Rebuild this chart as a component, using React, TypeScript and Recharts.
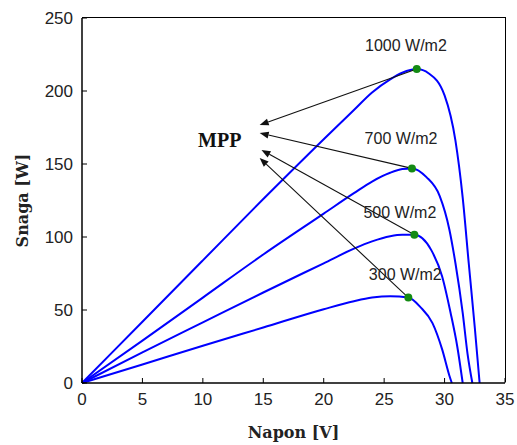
import React from 'react';
import { ComposedChart, Line, Scatter, XAxis, YAxis, ReferenceLine, ReferenceDot } from 'recharts';

// P-V curves, voltage [V] / power [W]
const voltage1000 = [0, 5, 10, 15, 20, 22.5, 24, 25.5, 26.5, 27.7, 28.7, 30, 30.9, 31.5, 32, 32.5, 32.9];
const power1000 = [0, 42, 84, 126, 167, 187, 199, 208, 212.5, 215, 212, 197, 166, 127, 82, 38, 0];

const voltage700 = [0, 5, 10, 15, 20, 22.5, 24, 25.5, 26.5, 27.3, 28.5, 29.6, 30.4, 30.9, 31.5, 31.9, 32.3];
const power700 = [0, 29, 58.5, 88, 116, 130, 138, 144, 146.5, 147, 141, 128, 105, 82, 48, 20, 0];

const voltage500 = [0, 5, 10, 15, 20, 22.5, 24, 25.5, 26.5, 27.5, 28.9, 29.8, 30.5, 31.05, 31.5];
const power500 = [0, 21, 41.5, 62, 82, 92, 97, 100.5, 101.5, 101.5, 91, 73, 48, 25, 0];

const voltage300 = [0, 5, 10, 15, 20, 22.5, 24, 25.5, 27, 28, 29, 29.8, 30.4, 30.6];
const power300 = [0, 12.7, 25.5, 38, 50.5, 56, 58.5, 59.5, 58.5, 52, 41, 23, 5, 0];

const irradianceLabels = ['1000 W/m2', '700 W/m2', '500 W/m2', '300 W/m2'];
const mppVoltage = [27.7, 27.3, 27.5, 27.0];
const mppPower = [215, 147, 101.5, 58.5];

// arrow tips next to the "MPP" caption
const arrowTipVoltage = [14.7, 14.7, 14.85, 14.7];
const arrowTipPower = [176.7, 171.2, 159.6, 154.1];

// where the irradiance captions sit
const labelVoltage = [26.8, 26.4, 26.3, 26.75];
const labelPower = [231.5, 167.8, 117, 74];
const mppCaption = { v: 11.4, p: 166.5 };

const xTicks = [0, 5, 10, 15, 20, 25, 30, 35];
const yTicks = [0, 50, 100, 150, 200, 250];

const toPoints = (v: number[], p: number[]) => v.map((x, i) => ({ v: x, p: p[i] }));

const curves = [
  toPoints(voltage1000, power1000),
  toPoints(voltage700, power700),
  toPoints(voltage500, power500),
  toPoints(voltage300, power300),
];
const mppPoints = toPoints(mppVoltage, mppPower);

const W = 517;
const H = 445;
const margin = { top: 18, right: 12, bottom: 0, left: 0 };
const Y_AXIS_W = 82;
const X_AXIS_H = 62;

const TICK = 5;
const LEFT_GAP = 9;
const BOTTOM_GAP = 10;
const tickFont = 'Liberation Sans, Arial, sans-serif';
const axisLabelStyle = { fontFamily: 'DejaVu Serif, serif', fontSize: 16, fontWeight: 'bold', fill: '#222', textAnchor: 'middle' } as any;
const frameLine = { stroke: '#000', strokeWidth: 1.5 };

// matlab-style ticks: marks point into the plot
const BottomTick = (p: any) => (
  <g>
    <line x1={p.x} x2={p.x} y1={p.y - BOTTOM_GAP} y2={p.y - BOTTOM_GAP - TICK} stroke="#000" />
    <text x={p.x} y={p.y} dy="0.71em" textAnchor="middle" fontFamily={tickFont} fontSize={17} fill="#222">
      {p.payload.value}
    </text>
  </g>
);
const LeftTick = (p: any) => (
  <g>
    <line x1={p.x + LEFT_GAP} x2={p.x + LEFT_GAP + TICK} y1={p.y} y2={p.y} stroke="#000" />
    <text x={p.x} y={p.y} dy="0.355em" textAnchor="end" fontFamily={tickFont} fontSize={17} fill="#222">
      {p.payload.value}
    </text>
  </g>
);

const Arrow = (props: any) => {
  const { x1, y1, x2, y2 } = props;
  const a = Math.atan2(y2 - y1, x2 - x1);
  const len = 9;
  const half = 3.5;
  const bx = x2 - len * Math.cos(a);
  const by = y2 - len * Math.sin(a);
  const nx = -Math.sin(a) * half;
  const ny = Math.cos(a) * half;
  return (
    <g>
      <line x1={x1} y1={y1} x2={bx} y2={by} stroke="#111" strokeWidth={1.1} />
      <polygon points={`${x2},${y2} ${bx + nx},${by + ny} ${bx - nx},${by - ny}`} fill="#111" />
    </g>
  );
};

export default function App() {
  // box edges on top and right of the plot area
  const plotLeft = margin.left + Y_AXIS_W;
  const plotTop = margin.top;
  const plotW = W - plotLeft - margin.right;
  const plotH = H - margin.top - margin.bottom - X_AXIS_H;
  return (
    <div style={{ width: W, height: H, position: 'relative' }}>
      <style>{'body{margin:0;overflow:hidden}'}</style>
      <ComposedChart width={W} height={H} margin={margin}>
        <XAxis
          dataKey="v"
          type="number"
          domain={[0, 35]}
          ticks={xTicks}
          height={X_AXIS_H}
          tickSize={0}
          tickMargin={BOTTOM_GAP}
          tickLine={false}
          tick={BottomTick}
          axisLine={frameLine}
          label={{ value: 'Napon [V]', position: 'insideBottom', offset: 7, style: axisLabelStyle }}
        />
        <YAxis
          type="number"
          domain={[0, 250]}
          ticks={yTicks}
          width={Y_AXIS_W}
          tickSize={0}
          tickMargin={LEFT_GAP}
          tickLine={false}
          tick={LeftTick}
          axisLine={frameLine}
          label={{ value: 'Snaga [W]', angle: -90, position: 'insideLeft', offset: 22, style: axisLabelStyle }}
        />
        {curves.map((pts, i) => (
          <Line
            key={irradianceLabels[i]}
            data={pts}
            dataKey="p"
            type="monotone"
            stroke="#0000ff"
            strokeWidth={2}
            dot={false}
            isAnimationActive={false}
          />
        ))}
        {irradianceLabels.map((txt, i) => (
          <ReferenceDot
            key={'lbl' + i}
            x={labelVoltage[i]}
            y={labelPower[i]}
            r={0}
            shape={(p: any) => (
              <text
                x={p.cx}
                y={p.cy}
                textAnchor="middle"
                dominantBaseline="central"
                fontFamily={tickFont}
                fontSize={16}
                fill="#222"
              >
                {txt}
              </text>
            )}
          />
        ))}
        <ReferenceDot
          x={mppCaption.v}
          y={mppCaption.p}
          r={0}
          shape={(p: any) => (
            <text
              x={p.cx}
              y={p.cy}
              textAnchor="middle"
              dominantBaseline="central"
              fontFamily="Liberation Serif, serif"
              fontWeight="bold"
              fontSize={20}
              fill="#111"
            >
              MPP
            </text>
          )}
        />
        {mppPoints.map((pt, i) => (
          <ReferenceLine
            key={'arr' + i}
            segment={[
              { x: pt.v, y: pt.p },
              { x: arrowTipVoltage[i], y: arrowTipPower[i] },
            ]}
            shape={Arrow}
          />
        ))}
        <Scatter
          data={mppPoints}
          dataKey="p"
          isAnimationActive={false}
          shape={(p: any) => <circle cx={p.cx} cy={p.cy} r={4} fill="#138a13" />}
        />
      </ComposedChart>
      <div
        style={{
          position: 'absolute',
          left: plotLeft,
          top: plotTop - 0.75,
          width: plotW + 0.75,
          height: plotH,
          borderTop: '1.5px solid #000',
          borderRight: '1.5px solid #000',
          boxSizing: 'border-box',
          pointerEvents: 'none',
        }}
      />
    </div>
  );
}
